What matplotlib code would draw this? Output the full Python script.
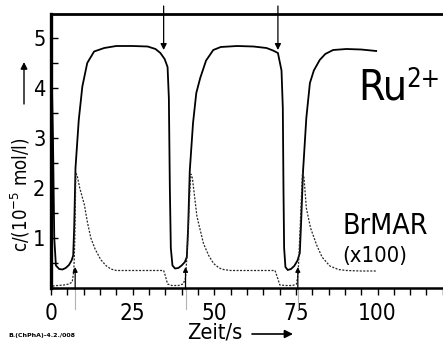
import math
import matplotlib
matplotlib.use('Agg')
import matplotlib.pyplot as plt
from matplotlib.ticker import MultipleLocator
from matplotlib import font_manager as fm
from matplotlib.textpath import TextPath

# ---------------- data ----------------
ru_t = [0.3, 0.6, 1.0, 1.5, 2.5, 3.5, 4.5, 5.5, 6.3, 6.8, 7.1, 7.5, 8.5, 9.6,
        11.1, 13.2, 16.3, 20, 25, 29.6, 32, 33.5, 34.8, 35.7, 36.1, 36.4, 36.7,
        37.2, 38, 39, 40, 41, 41.6, 42.0, 42.5, 43.5, 44.5, 45.7, 47.5, 49.7,
        52, 57, 62, 66, 68, 69.5, 70.6, 71.0, 71.2, 71.4, 71.8, 72.5, 73.5,
        74.5, 75.5, 76.2, 76.6, 77.2, 78.2, 79.3, 80.5, 82.3, 84, 86.4, 90.5,
        95, 99.6]
ru_c = [4.0, 3.0, 1.0, 0.45, 0.38, 0.37, 0.40, 0.46, 0.55, 0.65, 1.2, 2.4, 3.36,
        4.03, 4.5, 4.73, 4.80, 4.84, 4.84, 4.83, 4.78, 4.70, 4.58, 4.42, 3.8, 2.0,
        0.8, 0.45, 0.39, 0.40, 0.45, 0.52, 0.62, 1.2, 2.34, 3.3, 3.9, 4.2, 4.55,
        4.76, 4.82, 4.84, 4.83, 4.80, 4.75, 4.70, 4.35, 3.6, 2.0, 0.8, 0.42, 0.36,
        0.38, 0.44, 0.55, 0.7, 1.3, 2.34, 3.4, 4.1, 4.35, 4.56, 4.68, 4.76, 4.78,
        4.77, 4.74]

br_t = [0.5, 2, 4, 5.5, 6.5, 7.0, 7.3, 7.6, 8.0, 8.8, 10.2, 11.2, 12.2, 13.5,
        15.2, 16.8, 18.3, 20, 25, 30, 34.5, 35.0, 35.7, 37, 39, 40.5, 41.2, 41.7,
        42.3, 42.8, 43.3, 44.7, 46.7, 48.3, 49.8, 51.5, 52.8, 55, 60, 65, 68.6,
        69.3, 70.1, 72, 74, 75.2, 75.7, 76.3, 77.0, 77.5, 78.2, 79.5, 81.3, 83,
        85.4, 88, 90.5, 95, 99.6]
br_c = [0.04, 0.05, 0.06, 0.08, 0.12, 0.35, 1.0, 2.3, 2.25, 2.0, 1.67, 1.3, 1.0,
        0.78, 0.57, 0.45, 0.38, 0.35, 0.35, 0.35, 0.35, 0.25, 0.08, 0.05, 0.05,
        0.08, 0.2, 0.7, 1.6, 2.28, 2.2, 1.43, 0.89, 0.65, 0.49, 0.40, 0.37, 0.35,
        0.35, 0.35, 0.35, 0.22, 0.06, 0.05, 0.05, 0.08, 0.3, 1.2, 2.3, 2.2, 1.6,
        1.2, 0.87, 0.62, 0.44, 0.37, 0.35, 0.34, 0.34]

x_ticks = [0, 25, 50, 75, 100]
x_tick_labels = ['0', '25', '50', '75', '100']
y_ticks = [1, 2, 3, 4, 5]
y_tick_labels = ['1', '2', '3', '4', '5']
down_arrow_t = [34.5, 69.5]
up_arrow_t = [7.4, 41.2, 75.6]

# ---------------- font: prefer a condensed / narrow sans ----------------
def pick_font():
    cond = ('condensed', 'semi-condensed', 'extra-condensed', 'ultra-condensed')
    best = None
    for f in fm.fontManager.ttflist:
        if f.style != 'normal':
            continue
        w = f.weight if isinstance(f.weight, int) else 400
        if w not in (300, 350, 400):
            continue
        narrow = ('Narrow' in f.name or 'Condensed' in f.name
                  or str(f.stretch) in cond)
        if not narrow:
            continue
        score = (0 if w == 400 else 1, 0 if 'Liberation' in f.name else 1)
        if best is None or score < best[0]:
            best = (score, f.fname)
    if best is not None:
        return fm.FontProperties(fname=best[1])
    return fm.FontProperties(family='Liberation Sans')

FP = pick_font()
PT2PX = 100 / 72.0


def fit(text, tw, th, href='H', wexp=0.5):
    """font size (pt) compromising between target width tw and cap height th (px)"""
    ext_w = TextPath((0, 0), text, size=10, prop=FP).get_extents().width * PT2PX
    ext_h = TextPath((0, 0), href, size=10, prop=FP).get_extents().height * PT2PX
    fs_w = 10 * tw / ext_w
    fs_h = 10 * th / ext_h
    return math.exp(wexp * math.log(fs_w) + (1 - wexp) * math.log(fs_h))


W, H = 443, 342
fig = plt.figure(figsize=(W / 100, H / 100), dpi=100)
px = 3.265          # pixels per second
left_px, right_px = 51, 460
bot_px, top_px = 288, 14
ax = fig.add_axes([left_px / W, 1 - bot_px / H, (right_px - left_px) / W,
                   (bot_px - top_px) / H])
ax.set_xlim(0, (right_px - left_px) / px)
ax.set_ylim(0, (bot_px - top_px) / 50.0)

ax.plot(ru_t, ru_c, color='black', lw=1.3, solid_joinstyle='round')
ax.plot(br_t, br_c, color='0.15', lw=0.9, ls=(0, (1.6, 1.2)))

ax.spines['right'].set_visible(False)
ax.spines['left'].set_linewidth(2.4)
ax.spines['top'].set_linewidth(2.0)
ax.spines['bottom'].set_linewidth(1.8)

xfs = fit('100', 32, 18, href='1')
yfs = fit('5', 10, 14.7, href='5')
ax.set_xticks(x_ticks)
ax.set_xticklabels(x_tick_labels, fontproperties=FP, fontsize=xfs)
ax.set_yticks(y_ticks)
ax.set_yticklabels(y_tick_labels, fontproperties=FP, fontsize=yfs)
ax.xaxis.set_minor_locator(MultipleLocator(5))
ax.yaxis.set_minor_locator(MultipleLocator(0.5))
ax.tick_params(axis='x', which='both', direction='out', length=5, width=1, pad=5)
ax.tick_params(axis='y', which='both', direction='in', length=5, width=1, pad=4)

# arrows at the top (downward)
for t in down_arrow_t:
    ax.annotate('', xy=(t, 4.76), xytext=(t, 5.64),
                arrowprops=dict(arrowstyle='-|>', color='black', lw=0.9,
                                mutation_scale=9, shrinkA=0, shrinkB=0),
                annotation_clip=False)
# arrows at the bottom (upward) with faint guide lines
for t in up_arrow_t:
    ax.annotate('', xy=(t, 0.42), xytext=(t, -0.02),
                arrowprops=dict(arrowstyle='-|>', color='black', lw=0.9,
                                mutation_scale=7, shrinkA=0, shrinkB=0),
                annotation_clip=False)
    ax.plot([t, t], [0, -0.42], color='0.7', lw=0.8, clip_on=False)

# labels inside plot
ru_fs = fit('Ru', 42, 31, href='R')
ax.text((358 - left_px) / px, (bot_px - 99) / 50, 'Ru', fontproperties=FP,
        fontsize=ru_fs, ha='left', va='baseline', clip_on=False)
ax.text((406 - left_px) / px, (bot_px - 87) / 50, '2+', fontproperties=FP,
        fontsize=ru_fs * 0.6, ha='left', va='baseline', clip_on=False)
ax.text((342 - left_px) / px, (bot_px - 234) / 50, 'BrMAR', fontproperties=FP,
        fontsize=fit('BrMAR', 86, 20), ha='left', va='baseline')
ax.text((342 - left_px) / px, (bot_px - 262) / 50, '(x100)', fontproperties=FP,
        fontsize=fit('(x100)', 66, 15, href='1'), ha='left', va='baseline')

# axis labels
ylab_fs = fit('c/(10-5 mol/l)', 124, 12, href='l', wexp=0.6)
fig.text(20 / W, 1 - 195 / H, 'c/(10$^{\\mathregular{-5}}$ mol/l)', rotation=90,
         ha='center', va='center', fontproperties=FP, fontsize=ylab_fs)
fig.text(187 / W, 1 - 339 / H, 'Zeit/s', ha='left', va='baseline',
         fontproperties=FP, fontsize=fit('Zeit/s', 50, 17, href='Z'))
ax.annotate('', xy=(293 / W, 1 - 334 / H), xytext=(252 / W, 1 - 334 / H),
            xycoords='figure fraction', textcoords='figure fraction',
            arrowprops=dict(arrowstyle='-|>', color='black', lw=1.2,
                            mutation_scale=12, shrinkA=0, shrinkB=0),
            annotation_clip=False)
ax.annotate('', xy=(24 / W, 1 - 62 / H), xytext=(24 / W, 1 - 104 / H),
            xycoords='figure fraction', textcoords='figure fraction',
            arrowprops=dict(arrowstyle='-|>', color='black', lw=1.0,
                            mutation_scale=10, shrinkA=0, shrinkB=0),
            annotation_clip=False)
fig.text(8 / W, 1 - 337 / H, 'B.(ChPhA)-4.2./008', fontsize=4.5,
         weight='bold', ha='left', va='baseline')

fig.savefig('out.png', dpi=100)
